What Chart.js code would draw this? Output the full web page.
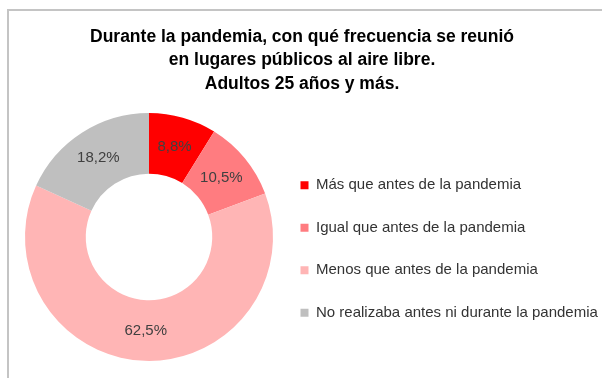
<!DOCTYPE html>
<html>
<head>
<meta charset="utf-8">
<script src="https://cdn.jsdelivr.net/npm/chart.js@4.4.0/dist/chart.umd.min.js"></script>
<style>
    body { margin: 0; background: #fff; }
    #marco {
        position: absolute; left: 7px; top: 9px; right: 0; bottom: 0;
        border-top: 2px solid #c4c4c4; border-left: 2px solid #c4c4c4;
    }
    #frecuenciaChart { position: absolute; left: 0; top: 0; }
</style>
</head>
<body>
<div id="marco"></div>
<canvas id="frecuenciaChart" width="602" height="378"></canvas>
<script>
// Datos del gráfico
const titulo = [
    'Durante la pandemia, con qué frecuencia se reunió',
    'en lugares públicos al aire libre.',
    'Adultos 25 años y más.'
];
const categorias = [
    'Más que antes de la pandemia',
    'Igual que antes de la pandemia',
    'Menos que antes de la pandemia',
    'No realizaba antes ni durante la pandemia'
];
const porcentajes = [8.8, 10.5, 62.5, 18.2];
const colores = ['#FF0000', '#FF7C80', '#FFB5B5', '#BFBFBF'];

// etiquetas de porcentaje sobre cada sector
const etiquetasPlugin = {
    id: 'etiquetas',
    afterDatasetsDraw(chart) {
        const ctx = chart.ctx;
        const meta = chart.getDatasetMeta(0);
        ctx.save();
        ctx.font = '15px "Liberation Sans"';
        ctx.fillStyle = '#404040';
        ctx.textAlign = 'center';
        ctx.textBaseline = 'middle';
        meta.data.forEach((arc, i) => {
            const pos = arc.tooltipPosition();
            ctx.fillText(porcentajes[i].toFixed(1).replace('.', ',') + '%', pos.x, pos.y);
        });
        ctx.restore();
    }
};

// el título del original está un poco a la izquierda del centro
const tituloPlugin = {
    id: 'tituloDesplazado',
    afterLayout(chart) {
        chart.titleBlock.left -= 10;
        chart.titleBlock.right -= 10;
    }
};

const ctx = document.getElementById('frecuenciaChart').getContext('2d');
new Chart(ctx, {
    type: 'doughnut',
    data: {
        labels: categorias,
        datasets: [{
            data: porcentajes,
            backgroundColor: colores,
            borderWidth: 0
        }]
    },
    options: {
        responsive: false,
        animation: false,
        cutout: '51%',
        layout: {
            padding: { top: 10, left: 25, right: 3, bottom: 17 }
        },
        plugins: {
            title: {
                display: true,
                text: titulo,
                color: '#000',
                font: { family: 'Liberation Sans', size: 17.5, weight: 'bold', lineHeight: 1.34 },
                padding: { top: 15.25, bottom: 17.25 }
            },
            legend: {
                position: 'right',
                fullSize: false,
                maxWidth: 326,
                title: {
                    display: true,
                    text: ' ',
                    padding: 0,
                    font: { size: 12, lineHeight: 2 }
                },
                labels: {
                    boxWidth: 8,
                    boxHeight: 8,
                    padding: 27.5,
                    color: '#333',
                    font: { family: 'Liberation Sans', size: 15 }
                }
            },
            tooltip: { enabled: false }
        }
    },
    plugins: [etiquetasPlugin, tituloPlugin]
});
</script>
</body>
</html>
